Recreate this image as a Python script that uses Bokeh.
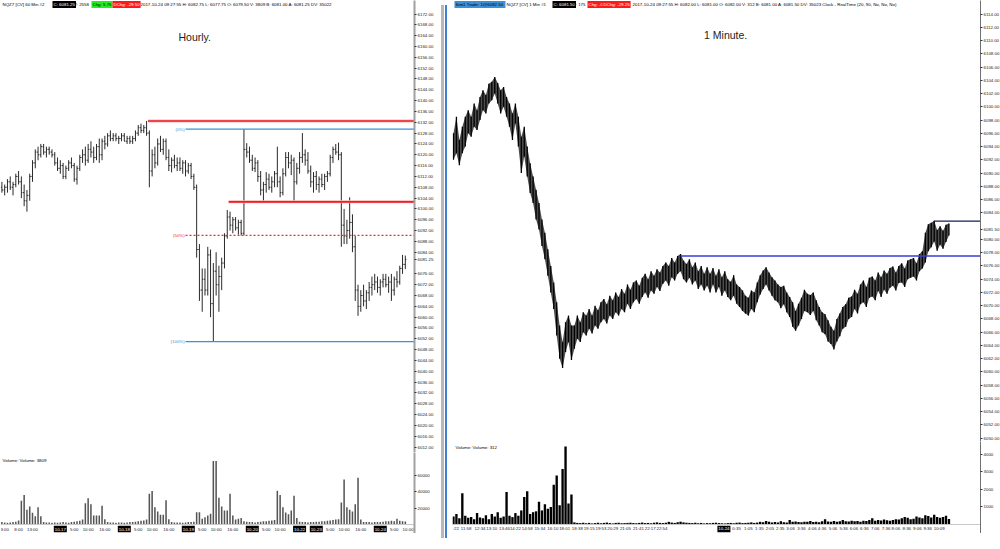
import numpy as np
from bokeh.plotting import figure
from bokeh.models import Range1d, FixedTicker, Label, Div, PrintfTickFormatter
from bokeh.layouts import row, column
from bokeh.embed import file_html
from bokeh.resources import INLINE
from bokeh.core.properties import value

# ---------------- data : hourly NQZ7 ----------------
hourly_open = [6108, 6107, 6108, 6110, 6108, 6109, 6112, 6110, 6106, 6103,
               6105, 6112, 6117, 6121, 6120, 6123, 6121, 6122, 6121, 6120,
               6117, 6115, 6116, 6112, 6115, 6117, 6116, 6111, 6115, 6119,
               6120, 6118, 6122, 6121, 6119, 6123, 6120, 6125, 6124, 6127,
               6126, 6127, 6126, 6126, 6127, 6125, 6126, 6125, 6126, 6128,
               6130, 6129, 6130, 6128, 6114, 6120, 6117, 6124, 6122, 6125,
               6119, 6116, 6118, 6116, 6117, 6115, 6117, 6114, 6116, 6112,
               6108, 6085, 6070, 6074, 6070, 6083, 6065, 6077, 6072, 6075,
               6080, 6090, 6097, 6094, 6096, 6093, 6095, 6091, 6122, 6121,
               6118, 6115, 6117, 6112, 6107, 6109, 6111, 6108, 6110, 6113,
               6110, 6106, 6113, 6119, 6117, 6118, 6110, 6115, 6119, 6120,
               6118, 6114, 6110, 6112, 6109, 6111, 6109, 6112, 6113, 6119,
               6122, 6121, 6120, 6094, 6090, 6092, 6095, 6086, 6070, 6064,
               6068, 6066, 6069, 6071, 6072, 6073, 6071, 6073, 6074, 6072,
               6073, 6070, 6074, 6073, 6078, 6079.5]
hourly_high = [6110, 6109, 6111, 6112, 6110, 6113, 6114, 6112, 6109, 6107,
               6113, 6118, 6122, 6123, 6124, 6124, 6123, 6123, 6122, 6121,
               6119, 6118, 6117, 6116, 6118, 6119, 6117, 6116, 6120, 6122,
               6123, 6124, 6125, 6123, 6124, 6126, 6126, 6127, 6128, 6129,
               6128, 6128, 6127, 6128, 6128, 6127, 6127, 6127, 6129, 6131,
               6131.5, 6131, 6132.5, 6129, 6122, 6123, 6126, 6127, 6126, 6126,
               6122, 6119, 6120, 6119, 6119, 6118, 6118, 6117, 6117, 6113,
               6109, 6087, 6078, 6078, 6086, 6085, 6080, 6084, 6079, 6082,
               6091, 6099.6, 6099, 6097, 6097, 6096, 6096, 6129.5, 6124.3, 6123,
               6120, 6119, 6118, 6114, 6110, 6113.6, 6113, 6112, 6114, 6123,
               6112, 6115, 6121, 6121, 6120, 6119, 6117, 6121, 6128, 6122,
               6121, 6116, 6113.6, 6114, 6112, 6113, 6113, 6114, 6120, 6123,
               6124, 6124.5, 6121, 6100, 6096, 6104.3, 6098, 6090, 6072, 6070,
               6072, 6070, 6073, 6075, 6076, 6075, 6074, 6076, 6076, 6075,
               6076, 6075, 6077, 6079, 6083, 6082.75]
hourly_low = [6106, 6105, 6106, 6107, 6105, 6108, 6109, 6104, 6101, 6099,
              6103, 6110, 6115, 6118, 6119, 6120, 6119, 6120, 6119, 6116,
              6114, 6113, 6111, 6111, 6114, 6115, 6110, 6109, 6114, 6117,
              6116, 6117, 6119, 6117, 6118, 6117, 6118, 6122, 6123, 6125,
              6125, 6125, 6124, 6125, 6125, 6124, 6124, 6124, 6125, 6127,
              6128, 6128, 6127, 6108, 6112, 6115, 6116, 6121, 6120, 6118,
              6114, 6113.5, 6115, 6114, 6114, 6113, 6112, 6113, 6111, 6107,
              6082, 6066, 6062, 6068, 6068, 6060, 6051, 6068, 6062, 6070,
              6078, 6089, 6092, 6091, 6092, 6090.5, 6090.2, 6090.2, 6119, 6117,
              6114, 6113.6, 6110, 6105, 6102.8, 6106, 6107, 6106, 6108, 6108,
              6104.3, 6105, 6112, 6115, 6112.5, 6102.8, 6109, 6113, 6117, 6116,
              6113, 6108, 6106, 6107, 6106, 6108, 6107, 6110, 6112, 6117,
              6120, 6118, 6086, 6087, 6087, 6089, 6084, 6066, 6060.5, 6062,
              6064, 6063, 6066, 6068, 6070, 6069, 6068, 6071, 6071, 6069,
              6066, 6068, 6071, 6072, 6076, 6077.75]
hourly_close = [6107, 6108, 6110, 6108, 6109, 6112, 6110, 6106, 6103, 6105,
                6112, 6117, 6121, 6120, 6123, 6121, 6122, 6121, 6120, 6117,
                6115, 6116, 6112, 6115, 6117, 6116, 6111, 6115, 6119, 6120,
                6118, 6122, 6121, 6119, 6123, 6120, 6125, 6124, 6127, 6126,
                6127, 6126, 6126, 6127, 6125, 6126, 6125, 6126, 6128, 6130,
                6129, 6130, 6128, 6114, 6120, 6117, 6124, 6122, 6125, 6119,
                6116, 6118, 6116, 6117, 6115, 6117, 6114, 6116, 6112, 6108,
                6085, 6070, 6074, 6070, 6083, 6065, 6077, 6072, 6075, 6080,
                6090, 6097, 6094, 6096, 6093, 6095, 6091, 6122, 6121, 6118,
                6115, 6117, 6112, 6107, 6109, 6111, 6108, 6110, 6113, 6110,
                6106, 6113, 6119, 6117, 6118, 6110, 6115, 6119, 6120, 6118,
                6114, 6110, 6112, 6109, 6111, 6109, 6112, 6113, 6119, 6122,
                6121, 6120, 6094, 6090, 6092, 6095, 6086, 6070, 6064, 6068,
                6066, 6069, 6071, 6072, 6073, 6071, 6073, 6074, 6072, 6073,
                6070, 6074, 6073, 6078, 6079.5, 6081.25]
hourly_volume = [3000, 2500, 2000, 2500, 3000, 3500, 5000, 29000, 36000, 18000,
                 22000, 14500, 10000, 21000, 10000, 3000, 2500, 2500, 2000, 2500,
                 2000, 2500, 3000, 2500, 2000, 3000, 3500, 4000, 4500, 6000,
                 26000, 32000, 24800, 11000, 11000, 11000, 23000, 6500, 3000, 2500,
                 2500, 2000, 2500, 2500, 2000, 2500, 3000, 3000, 3500, 4000,
                 4500, 5000, 6000, 37600, 41000, 21000, 16000, 12000, 12000, 29600,
                 6500, 3000, 2500, 2500, 2500, 2000, 2500, 3000, 3000, 3500,
                 15000, 15000, 7000, 9000, 11000, 13000, 77500, 77500, 32700, 22000,
                 17000, 17000, 37600, 11000, 6000, 7000, 8000, 4000, 3500, 3000,
                 3000, 2500, 3000, 3500, 4000, 4000, 4500, 5000, 5500, 41300,
                 36000, 21000, 14700, 12500, 17000, 35000, 8000, 3500, 3000, 3000,
                 2500, 3000, 3000, 3500, 3500, 4000, 4000, 4500, 5000, 5500,
                 6000, 6500, 27000, 55000, 21000, 18000, 16000, 24800, 57000, 6000,
                 3000, 3000, 3000, 2500, 3000, 3000, 3000, 3500, 4000, 4000,
                 4500, 4000, 7000, 4500, 4000, 3809]

hourly_time_ticks = [1, 6, 11, 26, 31, 37, 49, 54, 60, 72, 77, 83, 95, 100, 118, 123, 129, 141, 146]
hourly_time_labels = ["3:00", "8:00", "13:00", "5:00", "10:00", "16:00", "5:00", "10:00", "16:00",
                      "5:00", "10:00", "16:00", "5:00", "10:00", "5:00", "10:00", "16:00", "5:00", "10:00"]
hourly_date_ticks = [21, 44, 67, 90, 107, 113, 136]
hourly_date_labels = ["10-17", "10-18", "10-19", "10-20", "10-22", "10-23", "10-24"]
hourly_price_ticks = [6012 + 4 * i for i in range(41) if 6012 + 4 * i != 6080] + [6081.25]

fib_levels = [6129.5, 6090.25, 6051.0]
fib_names = ["(0%)", "(50%)", "(100%)"]
fib_colors = ["#3d8fd6", "#ee3030", "#3d8fd6"]
fib_start_bar = 66
resistance_levels = [6132.5, 6102.6]
resistance_start_bars = [52.5, 81.5]

# ---------------- data : 1 minute NQZ7 (sampled) ----------------
minute_high = [6096.0, 6098.5, 6095.0, 6097.0, 6098.5, 6099.5, 6098.5, 6100.5, 6099.5, 6101.5,
               6102.5, 6101.8, 6103.5, 6103.8, 6104.5, 6103.6, 6102.5, 6103.0, 6101.5, 6100.5,
               6099.0, 6100.5, 6098.5, 6095.5, 6097.0, 6094.0, 6091.5, 6089.5, 6087.5, 6085.5,
               6083.0, 6081.0, 6078.5, 6076.0, 6073.5, 6070.5, 6067.0, 6064.5, 6067.5, 6068.5,
               6067.0, 6067.0, 6068.5, 6067.5, 6069.0, 6068.5, 6069.5, 6068.5, 6070.0, 6069.3,
               6070.5, 6071.0, 6070.2, 6071.5, 6070.8, 6072.0, 6071.3, 6072.5, 6071.8, 6073.2,
               6072.4, 6073.5, 6073.8, 6073.0, 6074.2, 6074.8, 6074.0, 6075.2, 6074.5, 6075.5,
               6075.0, 6076.0, 6076.5, 6076.0, 6077.2, 6076.5, 6077.5, 6077.8, 6076.8, 6076.3,
               6077.0, 6075.8, 6076.5, 6075.2, 6076.0, 6074.8, 6075.8, 6074.8, 6075.7, 6074.5,
               6075.5, 6074.3, 6075.2, 6074.0, 6073.6, 6074.6, 6073.2, 6072.8, 6072.3, 6071.5,
               6071.2, 6072.3, 6072.0, 6073.5, 6074.6, 6075.3, 6075.8, 6075.0, 6074.3, 6073.8,
               6073.2, 6072.8, 6073.0, 6072.0, 6071.3, 6070.5, 6069.2, 6070.3, 6071.2, 6072.4,
               6071.8, 6071.6, 6072.0, 6070.8, 6069.8, 6069.0, 6068.7, 6067.8, 6066.8, 6066.2,
               6068.0, 6068.8, 6069.8, 6070.2, 6071.2, 6071.4, 6072.4, 6071.8, 6073.2, 6073.8,
               6072.8, 6074.2, 6074.4, 6073.8, 6075.0, 6074.3, 6075.3, 6074.8, 6075.7, 6075.9,
               6075.0, 6076.0, 6076.4, 6075.6, 6076.8, 6077.0, 6077.2, 6076.4, 6077.8, 6078.2,
               6081.0, 6082.3, 6082.5, 6082.8, 6081.4, 6082.0, 6081.3, 6082.2, 6082.4]
minute_low = [6092.0, 6093.0, 6091.2, 6093.0, 6094.0, 6096.0, 6095.5, 6097.0, 6096.5, 6098.0,
              6099.5, 6099.0, 6100.5, 6101.0, 6102.0, 6100.5, 6099.0, 6100.0, 6098.5, 6097.0,
              6095.0, 6097.5, 6094.0, 6090.0, 6092.5, 6089.5, 6087.0, 6085.5, 6083.0, 6081.5,
              6079.0, 6077.0, 6074.5, 6072.0, 6069.5, 6065.5, 6062.0, 6060.6, 6063.0, 6064.5,
              6061.8, 6063.5, 6065.0, 6064.5, 6066.0, 6065.5, 6066.5, 6065.8, 6067.0, 6066.5,
              6067.5, 6068.0, 6067.3, 6068.5, 6068.0, 6069.0, 6068.5, 6069.5, 6069.0, 6070.3,
              6069.5, 6070.5, 6071.0, 6070.3, 6071.3, 6072.0, 6071.2, 6072.3, 6071.8, 6072.8,
              6072.2, 6073.3, 6073.8, 6073.0, 6074.3, 6073.8, 6074.8, 6075.2, 6074.0, 6073.5,
              6074.2, 6073.2, 6073.8, 6072.5, 6073.2, 6072.3, 6073.0, 6072.0, 6073.2, 6072.0,
              6072.8, 6071.5, 6072.3, 6071.3, 6070.8, 6071.5, 6070.3, 6069.8, 6069.2, 6068.8,
              6068.5, 6069.5, 6069.0, 6070.5, 6071.7, 6072.5, 6073.2, 6072.3, 6071.5, 6070.8,
              6070.5, 6069.6, 6070.2, 6069.0, 6068.3, 6066.8, 6066.2, 6067.0, 6068.0, 6069.2,
              6069.0, 6068.6, 6069.2, 6067.8, 6067.0, 6066.0, 6065.7, 6064.6, 6064.2, 6063.4,
              6064.6, 6065.4, 6066.5, 6066.8, 6068.0, 6068.3, 6069.5, 6068.8, 6070.2, 6070.5,
              6069.8, 6071.2, 6071.4, 6070.8, 6072.2, 6071.3, 6072.4, 6071.8, 6072.7, 6073.0,
              6072.3, 6073.4, 6073.5, 6072.8, 6074.0, 6074.2, 6074.4, 6073.8, 6075.2, 6075.6,
              6076.5, 6078.2, 6078.8, 6079.7, 6078.3, 6079.2, 6078.6, 6079.6, 6080.6]
minute_volume = [450, 600, 350, 1780, 500, 380, 420, 300, 650, 400,
                 350, 520, 300, 600, 450, 700, 380, 450, 1850, 500,
                 420, 650, 500, 800, 1570, 1890, 600, 700, 750, 1300,
                 800, 1150, 900, 1000, 2260, 2780, 1100, 3150, 4440, 1200,
                 1700, 120, 90, 80, 100, 70, 90, 60, 80, 100,
                 70, 90, 110, 80, 60, 90, 100, 70, 80, 90,
                 100, 80, 70, 90, 110, 80, 90, 70, 100, 120,
                 90, 80, 100, 150, 110, 90, 130, 160, 120, 100,
                 90, 80, 100, 70, 90, 60, 80, 70, 90, 100,
                 80, 70, 60, 80, 90, 70, 100, 110, 80, 90,
                 100, 120, 90, 110, 150, 130, 200, 160, 120, 140,
                 110, 180, 130, 120, 250, 150, 170, 140, 130, 160,
                 150, 200, 140, 160, 130, 180, 300, 170, 150, 200,
                 160, 180, 250, 190, 170, 210, 180, 200, 150, 220,
                 200, 250, 350, 220, 260, 230, 280, 240, 210, 260,
                 300, 280, 350, 420, 380, 300, 330, 450, 400, 360,
                 520, 480, 400, 550, 430, 380, 420, 500, 312]

minute_time_ticks = [0.8, 4.3, 9, 13, 17.3, 21, 25, 29.3, 33.7, 37.7, 42, 46, 50, 54, 58.3, 62.7,
                     66.7, 70.7, 96, 100, 103.7, 107.3, 110.8, 114.3, 118, 121.7, 125, 128.7,
                     132.3, 135.8, 139.3, 143, 146.7, 150, 153.7, 157.3, 160.8, 164.7]
minute_time_labels = [":22", "11:58", "12:34", "13:10", "13:46", "14:22", "14:58", "15:34", "16:10",
                      "18:01", "18:38", "19:15", "19:53", "20:29", "21:05", "21:41", "22:17", "22:54",
                      "0:35", "1:05", "1:35", "2:05", "2:35", "3:06", "3:36", "4:06", "4:36", "5:06",
                      "5:36", "6:06", "6:36", "7:06", "7:36", "8:06", "8:36", "9:06", "9:36", "10:09"]
minute_date_ticks = [91.7]
minute_date_labels = ["10-24"]
minute_price_ticks = [6050 + 2 * i for i in range(33) if 6050 + 2 * i != 6082] + [6081.5]
minute_support_level = 6077.5
minute_support_start = 77
minute_high_level = 6082.75
minute_high_start = 163

# ---------------- styling ----------------
FONT = "Liberation Sans"
SMALL = "4.4px"
LW, RW = 414, 528          # frame widths
LPH, LVH = 452, 81         # left frame heights (volume incl. time strip)
RPH, RVH = 441, 92         # right frame heights (volume incl. time strip)


def make_fig(xr, yr, fw, fh):
    p = figure(frame_width=fw, frame_height=fh, x_range=xr, y_range=yr,
               output_backend="svg", toolbar_location=None,
               y_axis_location="right", x_axis_location=None,
               min_border=0, min_border_left=0, min_border_right=0,
               min_border_top=0, min_border_bottom=0)
    p.grid.visible = False
    p.outline_line_color = None
    ax = p.yaxis[0]
    ax.major_label_text_font_size = SMALL
    ax.major_label_text_font = FONT
    ax.major_label_text_color = "#222222"
    ax.major_tick_out = 2
    ax.major_tick_in = 0
    ax.minor_tick_out = 0
    ax.minor_tick_in = 0
    ax.major_label_standoff = 1
    ax.major_tick_line_color = "#333333"
    return p


def txt(p, x, y, text, xu="data", yu="data", align="left", base="middle", color="black",
        bg=None, size=SMALL):
    lab = Label(x=x, y=y, x_units=xu, y_units=yu, text=text, text_align=align,
                text_baseline=base, text_color=color, text_font=FONT, text_font_size=size)
    if bg is not None:
        lab.background_fill_color = bg
        lab.padding = 1
    p.add_layout(lab)


def time_strip(p, strip_y, ticks, labels, dticks, dlabels):
    p.text(x=ticks, y=[strip_y] * len(ticks), text=labels, text_align="center",
           text_baseline="middle", text_font=value(FONT), text_font_size=SMALL,
           text_color="#222222")
    p.rect(x=dticks, y=[strip_y] * len(dticks), width=13, height=6.5,
           width_units="screen", height_units="screen", fill_color="black", line_color=None)
    p.text(x=dticks, y=[strip_y] * len(dticks), text=dlabels, text_align="center",
           text_baseline="middle", text_font=value(FONT), text_font_size=SMALL,
           text_color="white")


# ================= LEFT : hourly =================
n_h = len(hourly_close)
hx = np.arange(n_h)
lxr = Range1d(-0.5, 148.3)
lp = make_fig(lxr, Range1d(6010, 6177), LW, LPH)
lp.yaxis[0].ticker = FixedTicker(ticks=hourly_price_ticks)
lp.yaxis[0].formatter = PrintfTickFormatter(format="%.2f")
lp.yaxis[0].axis_line_color = "#a0a0a0"
lp.yaxis[0].axis_line_width = 2

bar_col = "#2a2a2a"
lp.segment(hx, hourly_low, hx, hourly_high, line_color=bar_col, line_width=1)
lp.segment(hx - 0.4, hourly_open, hx, hourly_open, line_color=bar_col, line_width=1)
lp.segment(hx, hourly_close, hx + 0.4, hourly_close, line_color=bar_col, line_width=1)

for lvl, st in zip(resistance_levels, resistance_start_bars):
    lp.segment([st], [lvl], [lxr.end], [lvl], line_color="#ffb4b4", line_width=3.0)
    lp.segment([st], [lvl], [lxr.end], [lvl], line_color="#e8202a", line_width=1.6)
for lvl, name, col in zip(fib_levels, fib_names, fib_colors):
    dash = "2 2" if name == "(50%)" else "solid"
    lp.segment([fib_start_bar], [lvl], [lxr.end], [lvl], line_color=col,
               line_width=1.3, line_dash=dash)
    txt(lp, fib_start_bar - 0.3, lvl, name, align="right", color=col)

txt(lp, 69.3, 6163.4, "Hourly.", align="center", size="10.5px", color="#222222")

hdr_y = LPH - 4
txt(lp, 2, hdr_y, "NQZ7 [CV]  60 Min   #2", xu="screen", yu="screen")
txt(lp, 52, hdr_y, "C: 6081.25", xu="screen", yu="screen", color="white", bg="black")
txt(lp, 74, hdr_y, "T: 2558", xu="screen", yu="screen")
txt(lp, 91, hdr_y, "Chg: 5.75", xu="screen", yu="screen", bg="#22ee22")
txt(lp, 112, hdr_y, "DChg: -29.50", xu="screen", yu="screen", color="white", bg="#ff1a1a")
txt(lp, 140, hdr_y, "2017-10-24 09:27:55  H: 6082.75  L: 6077.75  O: 6079.50  V: 3809  B: 6081.00  A: 6081.25  DV: 35022",
    xu="screen", yu="screen")

lv = make_fig(lxr, Range1d(-11000, 88000), LW, LVH)
lv.yaxis[0].ticker = FixedTicker(ticks=[20000, 40000, 60000])
lv.yaxis[0].formatter = PrintfTickFormatter(format="%d")
lv.yaxis[0].axis_line_color = "#a0a0a0"
lv.yaxis[0].axis_line_width = 2
lv.vbar(x=hx, top=hourly_volume, bottom=0, width=0.55, fill_color="#555555", line_color=None)
lv.segment([lxr.start], [0], [lxr.end], [0], line_color="#c8c8c8", line_width=1)
time_strip(lv, -5500, hourly_time_ticks, hourly_time_labels, hourly_date_ticks, hourly_date_labels)
txt(lv, 2, LVH - 8, "Volume: Volume: 3809", xu="screen", yu="screen")

# ================= RIGHT : 1 minute =================
n_m = len(minute_high)
mx = np.arange(n_m)
rxr = Range1d(-0.33, 178.7)
rp = make_fig(rxr, Range1d(6049.5, 6116.05), RW, RPH)
rp.yaxis[0].ticker = FixedTicker(ticks=minute_price_ticks)
rp.yaxis[0].formatter = PrintfTickFormatter(format="%.2f")
rp.yaxis[0].axis_line_color = "#707070"

# dense 1-minute bars: a dark band between each sample's low and high, with the bars on top
rp.varea(x=mx, y1=minute_low, y2=minute_high, fill_color="#3a3a3a", fill_alpha=0.9)
rp.segment(mx, minute_low, mx, minute_high, line_color="black", line_width=1.3)

rp.segment([minute_support_start], [minute_support_level], [rxr.end], [minute_support_level],
           line_color="#3b3bd8", line_width=1.6)
rp.segment([minute_high_start], [minute_high_level], [rxr.end], [minute_high_level],
           line_color="#1a1a60", line_width=1.2)
txt(rp, 92.3, 6110.8, "1 Minute.", align="center", size="10.5px", color="#222222")

hdr_y2 = RPH - 4
txt(rp, 2, hdr_y2, "Sim1  Trade: 1@6082.50", xu="screen", yu="screen", bg="#3d8fd6")
txt(rp, 54, hdr_y2, "NQZ7 [CV]  1 Min   #1", xu="screen", yu="screen")
txt(rp, 100, hdr_y2, "C: 6081.50", xu="screen", yu="screen", color="white", bg="black")
txt(rp, 121, hdr_y2, "T: 175", xu="screen", yu="screen")
txt(rp, 135, hdr_y2, "Chg: -0.25", xu="screen", yu="screen", color="white", bg="#ff1a1a")
txt(rp, 150, hdr_y2, "DChg: -29.25", xu="screen", yu="screen", color="white", bg="#ff1a1a")
txt(rp, 180, hdr_y2, "2017-10-24 09:27:55  H: 6082.00  L: 6081.00  O: 6082.00  V: 312  B: 6081.00  A: 6081.50  DV: 35023  Clock - RealTime    (20, 90, No, No, No)",
    xu="screen", yu="screen")

rv = make_fig(rxr, Range1d(-512, 4720), RW, RVH)
rv.yaxis[0].ticker = FixedTicker(ticks=[1000, 2000, 3000, 4000])
rv.yaxis[0].formatter = PrintfTickFormatter(format="%d")
rv.yaxis[0].axis_line_color = "#707070"
rv.vbar(x=mx, top=minute_volume, bottom=0, width=0.8, fill_color="black", line_color=None)
rv.segment([rxr.start], [0], [rxr.end], [0], line_color="#c8c8c8", line_width=1)
time_strip(rv, -256, minute_time_ticks, minute_time_labels, minute_date_ticks, minute_date_labels)
txt(rv, 3, RVH - 6, "Volume: Volume: 312", xu="screen", yu="screen")

divider = Div(text="", width=6, height=533,
              styles={"background": "linear-gradient(to right, #b8b8b8 0px, #b8b8b8 3px, #ffffff 3px, #ffffff 4px, #3d7fd0 4px, #3d7fd0 6px)"})

layout = row(column(lp, lv), divider, column(rp, rv))

html = file_html(layout, INLINE, "NQZ7")
open("out.html", "w").write(html)
